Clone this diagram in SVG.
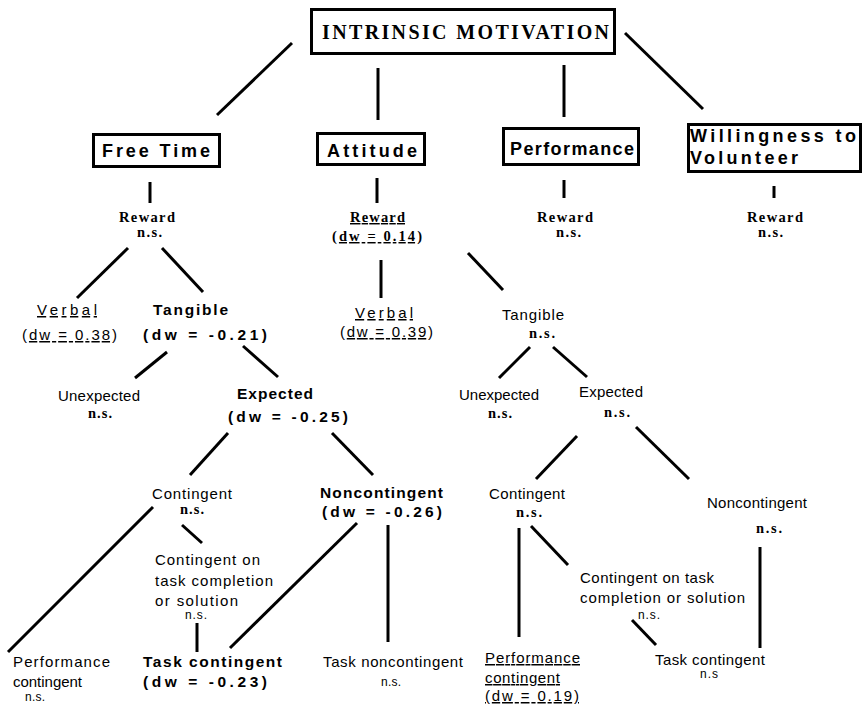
<svg xmlns="http://www.w3.org/2000/svg" width="864" height="710" viewBox="0 0 864 710">
<style>
text { fill: #000; }
.top { font-family: "Liberation Serif", serif; font-weight: bold; font-size: 20px; }
.box { fill: #fff; stroke: #000; stroke-width: 3; }
.bt { font-family: "Liberation Sans", Arial, sans-serif; font-weight: bold; font-size: 18px; }
.s { font-family: "Liberation Sans", Arial, sans-serif; font-size: 15px; }
.b { font-family: "Liberation Sans", Arial, sans-serif; font-weight: bold; font-size: 15.5px; }
.r { font-family: "Liberation Serif", serif; font-weight: bold; font-size: 14.5px; }
.sm { font-family: "Liberation Sans", Arial, sans-serif; font-size: 12px; }
.u { text-decoration: underline; }
#connectors line { stroke: #000; stroke-width: 3; stroke-linecap: butt; }
</style>
<rect width="864" height="710" fill="#fff"/>

<g id="connectors">
<line x1="292" y1="43" x2="217" y2="115"/>
<line x1="378" y1="68" x2="378" y2="120"/>
<line x1="564" y1="65" x2="564" y2="117"/>
<line x1="625" y1="33" x2="703" y2="109"/>
<line x1="150" y1="182" x2="150" y2="203"/>
<line x1="377" y1="178" x2="377" y2="203"/>
<line x1="564" y1="180" x2="564" y2="198"/>
<line x1="774" y1="186" x2="774" y2="198"/>
<line x1="128" y1="248" x2="77" y2="298"/>
<line x1="162" y1="248" x2="203" y2="292"/>
<line x1="167" y1="352" x2="135" y2="378"/>
<line x1="243" y1="346" x2="278" y2="377"/>
<line x1="228" y1="433" x2="190" y2="475"/>
<line x1="332" y1="433" x2="373" y2="475"/>
<line x1="153" y1="507" x2="8" y2="652"/>
<line x1="182" y1="525" x2="202" y2="543"/>
<line x1="197" y1="623" x2="197" y2="652"/>
<line x1="357" y1="523" x2="230" y2="648"/>
<line x1="388" y1="525" x2="388" y2="642"/>
<line x1="381" y1="260" x2="381" y2="298"/>
<line x1="468" y1="253" x2="503" y2="290"/>
<line x1="530" y1="347" x2="499" y2="378"/>
<line x1="553" y1="347" x2="587" y2="377"/>
<line x1="577" y1="436" x2="536" y2="479"/>
<line x1="636" y1="427" x2="689" y2="479"/>
<line x1="519" y1="528" x2="519" y2="637"/>
<line x1="531" y1="526" x2="568" y2="565"/>
<line x1="632" y1="620" x2="656" y2="645"/>
<line x1="760" y1="547" x2="760" y2="648"/>
</g>

<g id="intrinsic-motivation">
<rect class="box" x="311.5" y="9.5" width="303" height="44"/>
<text class="top" x="322" y="39" textLength="287" lengthAdjust="spacing">INTRINSIC MOTIVATION</text>
</g>

<g id="free-time">
<rect class="box" x="93.5" y="134.5" width="126" height="32"/>
<text class="bt" x="102" y="157" textLength="108" lengthAdjust="spacing">Free Time</text>
</g>
<g id="attitude">
<rect class="box" x="317.5" y="133.5" width="107" height="31"/>
<text class="bt" x="327" y="157" textLength="90" lengthAdjust="spacing">Attitude</text>
</g>
<g id="performance">
<rect class="box" x="503.5" y="128.5" width="135" height="36"/>
<text class="bt" x="510" y="155" textLength="124" lengthAdjust="spacing">Performance</text>
</g>
<g id="willingness">
<rect class="box" x="688.5" y="124.5" width="172" height="47"/>
<text class="bt" x="690" y="142" textLength="166" lengthAdjust="spacing">Willingness to</text>
<text class="bt" x="690" y="164" textLength="108" lengthAdjust="spacing">Volunteer</text>
</g>

<g id="ft-reward">
<text class="r" x="119" y="222" textLength="56" lengthAdjust="spacing">Reward</text>
<text class="r" x="137" y="237" textLength="25" lengthAdjust="spacing">n.s.</text>
</g>
<g id="at-reward">
<text class="r u" x="350" y="222" textLength="55" lengthAdjust="spacing">Reward</text>
<text class="r" x="332" y="241" textLength="90" lengthAdjust="spacing">(<tspan class="u">dw = 0.14</tspan>)</text>
</g>
<g id="pf-reward">
<text class="r" x="537" y="222" textLength="56" lengthAdjust="spacing">Reward</text>
<text class="r" x="556" y="237" textLength="25" lengthAdjust="spacing">n.s.</text>
</g>
<g id="wv-reward">
<text class="r" x="747" y="222" textLength="56" lengthAdjust="spacing">Reward</text>
<text class="r" x="758" y="237" textLength="25" lengthAdjust="spacing">n.s.</text>
</g>

<g id="ft-verbal">
<text class="s u" x="37" y="315" textLength="60" lengthAdjust="spacing">Verbal</text>
<text class="s" x="22" y="340" textLength="95" lengthAdjust="spacing">(<tspan class="u">dw = 0.38</tspan>)</text>
</g>
<g id="ft-tangible">
<text class="b" x="153" y="315" textLength="75" lengthAdjust="spacing">Tangible</text>
<text class="b" x="143" y="340" textLength="124" lengthAdjust="spacing">(dw = -0.21)</text>
</g>
<g id="ft-unexpected">
<text class="s" x="58" y="401" textLength="82" lengthAdjust="spacing">Unexpected</text>
<text class="r" x="88" y="418" textLength="24" lengthAdjust="spacing">n.s.</text>
</g>
<g id="ft-expected">
<text class="b" x="237" y="399" textLength="76" lengthAdjust="spacing">Expected</text>
<text class="b" x="228" y="422" textLength="120" lengthAdjust="spacing">(dw = -0.25)</text>
</g>
<g id="ft-contingent">
<text class="s" x="152" y="499" textLength="80" lengthAdjust="spacing">Contingent</text>
<text class="r" x="180" y="514" textLength="24" lengthAdjust="spacing">n.s.</text>
</g>
<g id="ft-noncontingent">
<text class="b" x="320" y="498" textLength="123" lengthAdjust="spacing">Noncontingent</text>
<text class="b" x="322" y="517" textLength="120" lengthAdjust="spacing">(dw = -0.26)</text>
</g>
<g id="ft-contingent-completion">
<text class="s" x="155" y="565" textLength="105" lengthAdjust="spacing">Contingent on</text>
<text class="s" x="155" y="586" textLength="118" lengthAdjust="spacing">task completion</text>
<text class="s" x="155" y="606" textLength="83" lengthAdjust="spacing">or solution</text>
<text class="sm" x="185" y="619" textLength="22" lengthAdjust="spacing">n.s.</text>
</g>
<g id="ft-performance-contingent">
<text class="s" x="13" y="667" textLength="97" lengthAdjust="spacing">Performance</text>
<text class="s" x="13" y="687" textLength="69" lengthAdjust="spacing">contingent</text>
<text class="sm" x="25" y="701" textLength="20" lengthAdjust="spacing">n.s.</text>
</g>
<g id="ft-task-contingent">
<text class="b" x="143" y="667" textLength="139" lengthAdjust="spacing">Task contingent</text>
<text class="b" x="143" y="687" textLength="124" lengthAdjust="spacing">(dw = -0.23)</text>
</g>
<g id="ft-task-noncontingent">
<text class="s" x="323" y="667" textLength="140" lengthAdjust="spacing">Task noncontingent</text>
<text class="sm" x="381" y="686" textLength="20" lengthAdjust="spacing">n.s.</text>
</g>

<g id="at-verbal">
<text class="s u" x="355" y="318" textLength="58" lengthAdjust="spacing">Verbal</text>
<text class="s" x="340" y="337" textLength="93" lengthAdjust="spacing">(<tspan class="u">dw = 0.39</tspan>)</text>
</g>
<g id="at-tangible">
<text class="s" x="502" y="320" textLength="62" lengthAdjust="spacing">Tangible</text>
<text class="r" x="529" y="338" textLength="26" lengthAdjust="spacing">n.s.</text>
</g>
<g id="at-unexpected">
<text class="s" x="459" y="400" textLength="80" lengthAdjust="spacing">Unexpected</text>
<text class="r" x="488" y="418" textLength="24" lengthAdjust="spacing">n.s.</text>
</g>
<g id="at-expected">
<text class="s" x="579" y="397" textLength="64" lengthAdjust="spacing">Expected</text>
<text class="r" x="604" y="417" textLength="26" lengthAdjust="spacing">n.s.</text>
</g>
<g id="at-contingent">
<text class="s" x="489" y="499" textLength="76" lengthAdjust="spacing">Contingent</text>
<text class="r" x="516" y="517" textLength="26" lengthAdjust="spacing">n.s.</text>
</g>
<g id="at-noncontingent">
<text class="s" x="707" y="508" textLength="100" lengthAdjust="spacing">Noncontingent</text>
<text class="r" x="756" y="533" textLength="26" lengthAdjust="spacing">n.s.</text>
</g>
<g id="at-contingent-completion">
<text class="s" x="580" y="583" textLength="134" lengthAdjust="spacing">Contingent on task</text>
<text class="s" x="580" y="603" textLength="165" lengthAdjust="spacing">completion or solution</text>
<text class="sm" x="638" y="619" textLength="22" lengthAdjust="spacing">n.s.</text>
</g>
<g id="at-performance-contingent">
<text class="s u" x="485" y="663" textLength="95" lengthAdjust="spacing">Performance</text>
<text class="s u" x="485" y="683" textLength="75" lengthAdjust="spacing">contingent</text>
<text class="s u" x="485" y="701" textLength="94" lengthAdjust="spacing">(dw = 0.19)</text>
</g>
<g id="at-task-contingent">
<text class="s" x="655" y="665" textLength="110" lengthAdjust="spacing">Task contingent</text>
<text class="sm" x="700" y="678" textLength="18" lengthAdjust="spacing">n.s</text>
</g>
</svg>
